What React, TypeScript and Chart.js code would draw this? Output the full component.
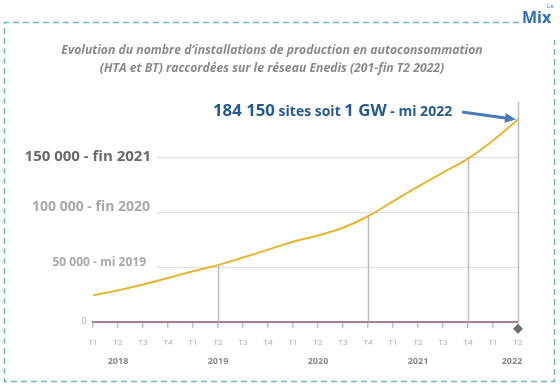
import React, { useEffect, useRef } from "react";
import { Chart, registerables } from "chart.js";

Chart.register(...registerables);

const categories = ["T1", "T2", "T3", "T4", "T1", "T2", "T3", "T4", "T1", "T2", "T3", "T4", "T1", "T2", "T3", "T4", "T1", "T2"];
const years = ["2018", "2019", "2020", "2021", "2022"];
const yearLabelIndex = [1, 5, 9, 13, 17];
const installations = [24000, 28500, 33800, 39800, 46000, 51500, 58400, 65600, 72800, 78500, 85500, 96000, 109500, 123000, 135800, 148500, 165000, 184150];
const yTicks = [0, 50000, 100000, 150000];
const yTickLabels = ["0", "50 000 - mi 2019", "100 000 - fin 2020", "150 000 - fin 2021"];
const dropIndices = [5, 11, 15];
const titleLines = [
  "Evolution du nombre d\u2019installations de production en autoconsommation",
  "(HTA et BT) raccord\u00e9es sur le r\u00e9seau Enedis (201-fin T2 2022)",
];
const annotationParts = [
  { text: "184 150", size: 16.8 },
  { text: " sites soit ", size: 14 },
  { text: "1 GW", size: 16.8 },
  { text: " - mi 2022", size: 14 },
];

const FONT = "'Open Sans', 'DejaVu Sans', sans-serif";

const decorPlugin = {
  id: "decor",
  beforeDatasetsDraw(chart: any) {
    const { ctx, chartArea, scales } = chart;
    const x = scales.x;
    const y = scales.y;
    ctx.save();
    ctx.strokeStyle = "#e2e2e2";
    ctx.lineWidth = 1.5;
    yTicks.slice(1).forEach((v) => {
      const py = Math.round(y.getPixelForValue(v)) + 0.5;
      ctx.beginPath();
      ctx.moveTo(157, py);
      ctx.lineTo(chartArea.right, py);
      ctx.stroke();
    });
    ctx.strokeStyle = "#bdbdbd";
    ctx.lineWidth = 1.5;
    dropIndices.forEach((i) => {
      const px = Math.round(x.getPixelForValue(i)) + 0.5;
      ctx.beginPath();
      ctx.moveTo(px, y.getPixelForValue(0));
      ctx.lineTo(px, y.getPixelForValue(installations[i]));
      ctx.stroke();
    });
    const last = installations.length - 1;
    const lx = Math.round(x.getPixelForValue(last)) + 0.5;
    ctx.beginPath();
    ctx.moveTo(lx, y.getPixelForValue(0));
    ctx.lineTo(lx, chartArea.top);
    ctx.stroke();
    ctx.restore();
  },
  afterDraw(chart: any) {
    const { ctx, scales } = chart;
    const x = scales.x;
    const y = scales.y;
    ctx.save();

    // dashed frame
    ctx.strokeStyle = "#6cb8c6";
    ctx.lineWidth = 1.5;
    ctx.setLineDash([6, 4]);
    ctx.beginPath();
    ctx.moveTo(519, 22.5);
    ctx.lineTo(4.5, 22.5);
    ctx.lineTo(4.5, 381.5);
    ctx.lineTo(554.5, 381.5);
    ctx.lineTo(554.5, 40);
    ctx.stroke();
    ctx.setLineDash([]);

    // logo
    ctx.fillStyle = "#2f6db5";
    ctx.font = `bold 16px ${FONT}`;
    ctx.textAlign = "left";
    ctx.textBaseline = "alphabetic";
    ctx.fillText("Mix", 522, 23);
    ctx.font = `6px ${FONT}`;
    ctx.fillText("Le", 547, 8);

    // title
    ctx.fillStyle = "#8a8a8a";
    ctx.font = `italic bold 12.2px ${FONT}`;
    ctx.textAlign = "center";
    ctx.textBaseline = "middle";
    ctx.fillText(titleLines[0], 272, 51);
    ctx.fillText(titleLines[1], 272, 68.5);

    // y labels
    ctx.textAlign = "right";
    const yStyles = [
      { font: `9px ${FONT}`, color: "#aaaaaa", right: 87, dy: 0 },
      { font: `bold 12px ${FONT}`, color: "#a8a8a8", right: 146, dy: -4 },
      { font: `bold 14px ${FONT}`, color: "#a8a8a8", right: 150, dy: -5 },
      { font: `bold 15px ${FONT}`, color: "#6a6a6a", right: 151, dy: 0 },
    ];
    yTicks.forEach((v, i) => {
      const s = yStyles[i];
      ctx.font = s.font;
      ctx.fillStyle = s.color;
      ctx.fillText(yTickLabels[i], s.right, y.getPixelForValue(v) + s.dy);
    });

    // year labels
    ctx.textAlign = "center";
    ctx.font = `bold 9px ${FONT}`;
    ctx.fillStyle = "#888888";
    years.forEach((yr, i) => {
      const px = Math.min(x.getPixelForValue(yearLabelIndex[i]), 512);
      ctx.fillText(yr, px, 361);
    });

    // diamond marker
    const last = installations.length - 1;
    const dx = x.getPixelForValue(last);
    const dy = y.getPixelForValue(0) + 7;
    ctx.fillStyle = "#6d6d6d";
    ctx.beginPath();
    ctx.moveTo(dx, dy - 5);
    ctx.lineTo(dx + 5, dy);
    ctx.lineTo(dx, dy + 5);
    ctx.lineTo(dx - 5, dy);
    ctx.closePath();
    ctx.fill();

    // annotation
    ctx.textAlign = "left";
    ctx.textBaseline = "alphabetic";
    ctx.fillStyle = "#245a8f";
    let tx = 213;
    const ty = 116;
    annotationParts.forEach((p) => {
      ctx.font = `bold ${p.size}px ${FONT}`;
      ctx.fillText(p.text, tx, ty);
      tx += ctx.measureText(p.text).width;
    });

    // arrow toward last point
    const ex = x.getPixelForValue(last) - 2;
    const ey = y.getPixelForValue(installations[last]);
    const sx = 462;
    const sy = 112;
    const ang = Math.atan2(ey - sy, ex - sx);
    ctx.strokeStyle = "#4a7bbd";
    ctx.fillStyle = "#4a7bbd";
    ctx.lineWidth = 3;
    ctx.beginPath();
    ctx.moveTo(sx, sy);
    ctx.lineTo(ex - 9 * Math.cos(ang), ey - 9 * Math.sin(ang));
    ctx.stroke();
    ctx.beginPath();
    ctx.moveTo(ex, ey);
    ctx.lineTo(ex - 11 * Math.cos(ang) + 5 * Math.sin(ang), ey - 11 * Math.sin(ang) - 5 * Math.cos(ang));
    ctx.lineTo(ex - 11 * Math.cos(ang) - 5 * Math.sin(ang), ey - 11 * Math.sin(ang) + 5 * Math.cos(ang));
    ctx.closePath();
    ctx.fill();

    ctx.restore();
  },
};

export default function App() {
  const ref = useRef<HTMLCanvasElement>(null);
  useEffect(() => {
    if (!ref.current) return;
    const chart = new Chart(ref.current, {
      type: "line",
      data: {
        labels: categories,
        datasets: [
          {
            data: installations,
            borderColor: "#e6b42e",
            borderWidth: 2,
            pointRadius: 0,
            tension: 0.4,
            fill: false,
          },
        ],
      },
      options: {
        responsive: false,
        animation: false,
        devicePixelRatio: 1,
        layout: { padding: { left: 93, right: 42, top: 102, bottom: 30.7 } },
        plugins: { legend: { display: false }, tooltip: { enabled: false }, title: { display: false } },
        scales: {
          x: {
            display: true,
            offset: false,
            grid: { display: true, drawOnChartArea: false, drawTicks: true, tickLength: 6, color: "#bdbdbd", lineWidth: 1.5 },
            border: { display: true, color: "#a77e9c", width: 2 },
            ticks: { color: "#aaaaaa", font: { size: 8, family: FONT }, padding: 10, maxRotation: 0, autoSkip: false },
          },
          y: { display: false, min: 0, max: 200000 },
        },
      },
      plugins: [decorPlugin],
    });
    return () => chart.destroy();
  }, []);
  return (
    <div style={{ position: "fixed", left: 0, top: 0, width: 560, height: 388, background: "#fff" }}>
      <canvas ref={ref} width={560} height={388} />
    </div>
  );
}
